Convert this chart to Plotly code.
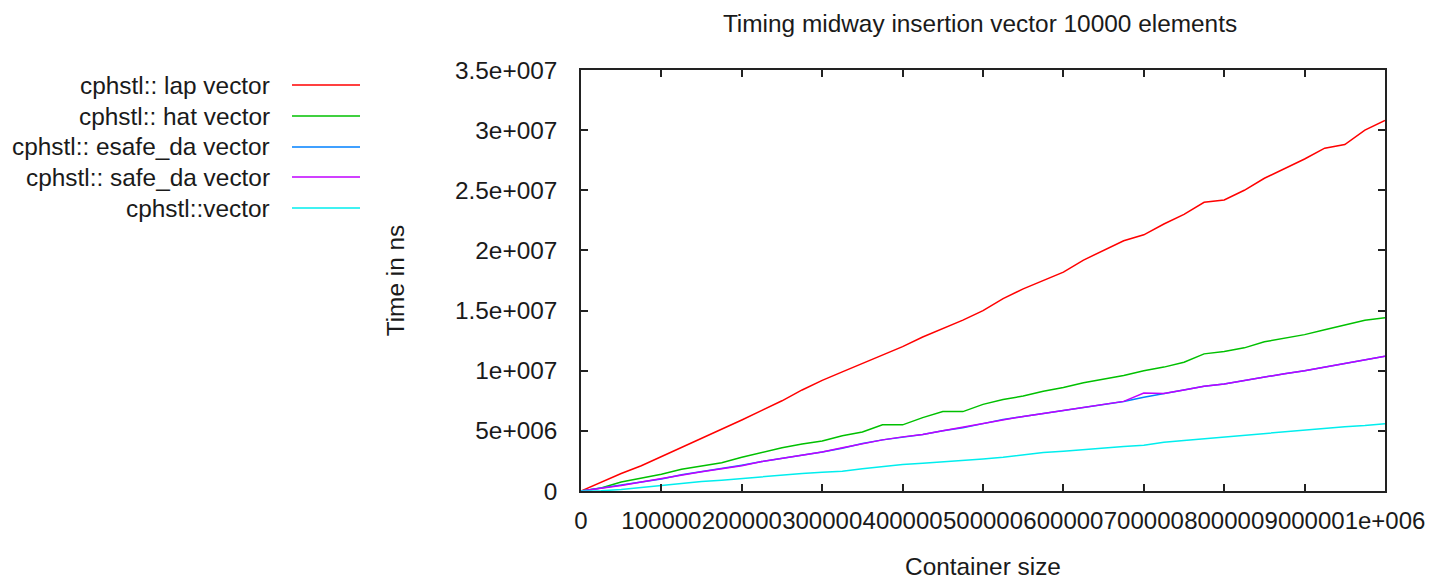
import plotly.graph_objects as go

# Container sizes (x), step 25000
sizes = [i * 25000 for i in range(41)]

series_names = [
    "cphstl:: lap vector",
    "cphstl:: hat vector",
    "cphstl:: esafe_da vector",
    "cphstl:: safe_da vector",
    "cphstl::vector",
]
series_colors = ["#ff0000", "#00c000", "#0080ff", "#c000ff", "#00eeee"]

lap_vector = [0, 0.72e6, 1.45e6, 2.1e6, 2.85e6, 3.6e6, 4.35e6, 5.1e6, 5.9e6, 6.7e6,
              7.5e6, 8.4e6, 9.2e6, 9.9e6, 1.06e7, 1.13e7, 1.2e7, 1.28e7, 1.35e7, 1.42e7,
              1.5e7, 1.6e7, 1.68e7, 1.75e7, 1.82e7, 1.92e7, 2.0e7, 2.08e7, 2.13e7, 2.22e7,
              2.3e7, 2.4e7, 2.42e7, 2.5e7, 2.6e7, 2.68e7, 2.76e7, 2.85e7, 2.88e7, 3.0e7,
              3.08e7]
hat_vector = [0, 0.25e6, 0.75e6, 1.05e6, 1.4e6, 1.8e6, 2.1e6, 2.35e6, 2.8e6, 3.2e6,
              3.6e6, 3.9e6, 4.15e6, 4.6e6, 4.9e6, 5.5e6, 5.5e6, 6.1e6, 6.6e6, 6.6e6,
              7.2e6, 7.6e6, 7.9e6, 8.3e6, 8.6e6, 9.0e6, 9.3e6, 9.6e6, 1.0e7, 1.03e7,
              1.07e7, 1.14e7, 1.16e7, 1.19e7, 1.24e7, 1.27e7, 1.3e7, 1.34e7, 1.38e7, 1.42e7,
              1.44e7]
esafe_da_vector = [0, 0.25e6, 0.5e6, 0.75e6, 1.0e6, 1.35e6, 1.6e6, 1.85e6, 2.15e6, 2.45e6,
                   2.7e6, 2.95e6, 3.25e6, 3.55e6, 3.95e6, 4.25e6, 4.45e6, 4.7e6, 5.0e6, 5.25e6,
                   5.6e6, 5.95e6, 6.2e6, 6.45e6, 6.7e6, 6.95e6, 7.2e6, 7.45e6, 7.8e6, 8.1e6,
                   8.4e6, 8.7e6, 8.9e6, 9.2e6, 9.5e6, 9.75e6, 1.0e7, 1.03e7, 1.06e7, 1.09e7,
                   1.12e7]
safe_da_vector = [0, 0.2e6, 0.45e6, 0.75e6, 1.05e6, 1.35e6, 1.6e6, 1.85e6, 2.1e6, 2.45e6,
                  2.7e6, 2.95e6, 3.25e6, 3.6e6, 3.95e6, 4.25e6, 4.5e6, 4.7e6, 5.0e6, 5.3e6,
                  5.6e6, 5.95e6, 6.2e6, 6.45e6, 6.7e6, 6.95e6, 7.2e6, 7.45e6, 8.15e6, 8.1e6,
                  8.4e6, 8.7e6, 8.9e6, 9.2e6, 9.5e6, 9.75e6, 1.0e7, 1.03e7, 1.06e7, 1.09e7,
                  1.12e7]
std_vector = [0, 0.02e6, 0.12e6, 0.3e6, 0.45e6, 0.65e6, 0.8e6, 0.9e6, 1.05e6, 1.15e6,
              1.3e6, 1.45e6, 1.55e6, 1.65e6, 1.85e6, 2.05e6, 2.2e6, 2.3e6, 2.4e6, 2.55e6,
              2.65e6, 2.8e6, 3.0e6, 3.2e6, 3.3e6, 3.45e6, 3.55e6, 3.7e6, 3.8e6, 4.05e6,
              4.2e6, 4.35e6, 4.45e6, 4.6e6, 4.75e6, 4.9e6, 5.05e6, 5.2e6, 5.35e6, 5.45e6,
              5.6e6]

x_tickvals = [i * 100000 for i in range(11)]
x_ticktext = ["0", "100000", "200000", "300000", "400000", "500000",
              "600000", "700000", "800000", "900000", "1e+006"]
y_tickvals = [i * 5e6 for i in range(8)]
y_ticktext = ["0", "5e+006", "1e+007", "1.5e+007", "2e+007", "2.5e+007", "3e+007", "3.5e+007"]

all_series = [lap_vector, hat_vector, esafe_da_vector, safe_da_vector, std_vector]

FONT = "Liberation Sans, Arial, sans-serif"
FS = 24.4
TXT = "#1a1a1a"

fig = go.Figure()
for name, vals, col in zip(series_names, all_series, series_colors):
    fig.add_trace(go.Scatter(x=sizes, y=vals, mode="lines", name=name,
                             line=dict(color=col, width=1.5), showlegend=False))

W, H = 1431, 580
L, R, T, B = 581, 46, 70, 89
pw = W - L - R
ph = H - T - B

# Manual legend (text right-aligned, sample line to the right), as in gnuplot
legend_y_px = [85, 116, 147, 177, 208]
annotations = []
shapes = []
for name, col, ypx in zip(series_names, series_colors, legend_y_px):
    yp = 1 - (ypx - T) / ph
    annotations.append(dict(xref="paper", yref="paper", x=(272 - L) / pw, y=yp,
                            text=name, showarrow=False, xanchor="right", yanchor="middle",
                            font=dict(family=FONT, size=FS, color=TXT)))
    shapes.append(dict(type="line", xref="paper", yref="paper",
                       x0=(292 - L) / pw, x1=(360 - L) / pw, y0=yp, y1=yp,
                       line=dict(color=col, width=1.5)))

fig.update_layout(
    width=W, height=H,
    margin=dict(l=L, r=R, t=T, b=B, autoexpand=False),
    paper_bgcolor="white", plot_bgcolor="white",
    font=dict(family=FONT, size=FS, color=TXT),
    title=dict(text="Timing midway insertion vector 10000 elements",
               x=980 / W, xanchor="center", xref="container",
               y=1 - 23 / H, yanchor="middle", yref="container",
               font=dict(family=FONT, size=FS, color=TXT)),
    annotations=annotations,
    shapes=shapes,
    xaxis=dict(range=[0, 1e6], tickvals=x_tickvals, ticktext=x_ticktext,
               tickangle=0, tickfont=dict(family=FONT, size=24, color=TXT),
               ticks="inside", ticklen=7, tickwidth=1.5, tickcolor="#222",
               showline=True, linecolor="#222", linewidth=1.5, mirror="allticks",
               showgrid=False, zeroline=False, ticklabelstandoff=7, automargin=False,
               title=dict(text="Container size", standoff=37,
                          font=dict(family=FONT, size=FS, color=TXT))),
    yaxis=dict(range=[0, 3.5e7], tickvals=y_tickvals, ticktext=y_ticktext,
               ticks="inside", ticklen=7, tickwidth=1.5, tickcolor="#222",
               showline=True, linecolor="#222", linewidth=1.5, mirror="allticks",
               showgrid=False, zeroline=False, ticklabelstandoff=17, automargin=False,
               title=dict(text="Time in ns", standoff=43,
                          font=dict(family=FONT, size=FS, color=TXT))),
)

fig.write_html("out.html")
